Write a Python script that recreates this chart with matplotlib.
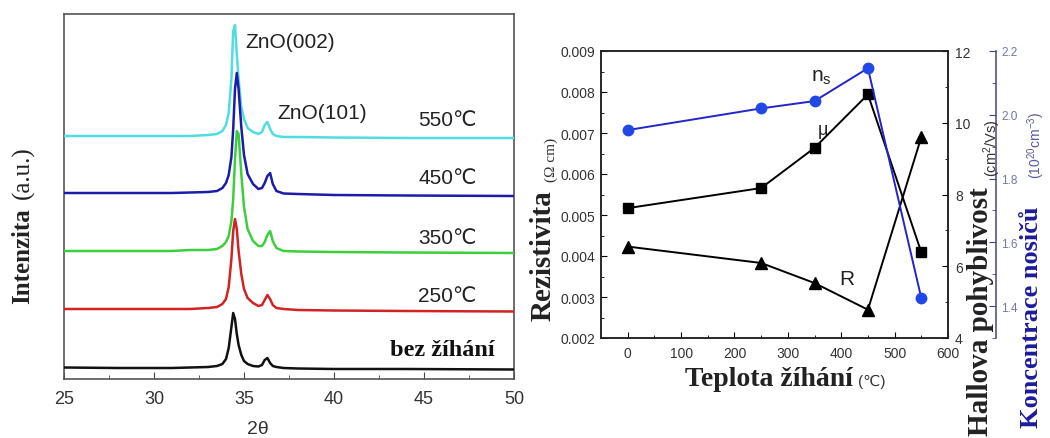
import matplotlib
matplotlib.use('Agg')
import matplotlib.pyplot as plt
from matplotlib.ticker import MultipleLocator, FormatStrFormatter

plt.rcParams['font.family'] = ['Liberation Sans', 'DejaVu Sans']
plt.rcParams['mathtext.default'] = 'regular'

# --- XRD scans (stacked, a.u.) ---
two_theta = [25.0, 28.0, 31.0, 32.0, 33.0, 33.5, 33.8, 34.0, 34.15, 34.3,
             34.4, 34.5, 34.6, 34.7, 34.85, 35.0, 35.2, 35.5, 35.8, 36.0,
             36.15, 36.3, 36.45, 36.6, 36.8, 37.2, 38.0, 40.0, 44.0, 50.0]
i_raw = [11.5, 11, 11, 11.5, 12, 13, 15, 20, 31, 52,
         66, 60, 45, 34, 24, 18, 15, 13, 12.5, 14,
         19, 21, 16, 13, 12, 11, 10.5, 10, 10, 9.5]
i_250 = [70, 70, 70, 70, 71, 72, 75, 80, 92, 120,
         148, 160, 150, 128, 105, 90, 81, 76, 73, 74,
         79, 84, 80, 74, 71, 70, 69, 68.5, 68, 67.5]
i_350 = [128, 128, 128, 129, 129, 130, 133, 137, 143, 158,
         180, 220, 248, 245, 205, 172, 150, 138, 133, 133,
         137, 144, 148, 138, 131, 128, 127.5, 127, 126.5, 126]
i_450 = [186, 186, 186, 186.5, 187, 188, 191, 196, 204, 222,
         250, 290, 306, 290, 252, 224, 205, 195, 190, 191,
         196, 203, 206, 195, 188, 185.5, 185, 184, 183.5, 183]
i_550 = [243, 243, 243, 243, 244, 245, 248, 254, 266, 300,
         348, 354, 325, 300, 272, 260, 251, 247, 245, 247,
         254, 257, 250, 245, 243, 242, 242, 241.5, 241, 241]
scan_labels = ['bez žíhání', '250℃', '350℃', '450℃', '550℃']

# --- Hall measurements vs annealing temperature ---
temp = [0, 250, 350, 450, 550]
resistivity = [0.00423, 0.00383, 0.00334, 0.00269, 0.00690]   # Ohm cm
mobility = [7.62, 8.18, 9.30, 10.79, 6.39]                    # cm2/Vs
carriers = [1.952, 2.020, 2.043, 2.146, 1.425]                # 1e20 cm-3

W, H = 1050, 439
fig = plt.figure(figsize=(W / 100, H / 100), dpi=100)

def fx(px):
    return px / W

def fy(py):
    return 1 - py / H

# ---------------- XRD panel ----------------
ax1 = fig.add_axes([fx(64), fy(380), 450 / W, 365 / H])
scans = [i_raw, i_250, i_350, i_450, i_550]
colors = ['#111111', '#d02424', '#3ccf3c', '#1c1ca8', '#4fdde2']
for k, (y, c) in enumerate(zip(scans, colors)):
    ax1.plot(two_theta, y, color=c, lw=1.8, zorder=10 - k)

ax1.set_xlim(25, 50)
ax1.set_ylim(0, 365)
ax1.set_yticks([])
ax1.xaxis.set_major_locator(MultipleLocator(5))
ax1.xaxis.set_minor_locator(MultipleLocator(2.5))
ax1.tick_params(axis='x', which='both', direction='in', labelsize=13,
                labelcolor='#333333', color='#444444', pad=8)
ax1.tick_params(axis='x', which='major', length=5)
ax1.tick_params(axis='x', which='minor', length=3)
for s in ax1.spines.values():
    s.set_color('#555555')
    s.set_linewidth(1.2)

ax1.text(35.06, 338, 'ZnO(002)', fontsize=15, va='center', color='#222222')
ax1.text(36.83, 267, 'ZnO(101)', fontsize=15, va='center', color='#222222')
label_y = [30, 84, 142, 201, 260]
for lab, ly in zip(scan_labels[1:], label_y[1:]):
    ax1.text(44.67, ly, lab, fontsize=15, va='center', color='#222222')
ax1.text(43.1, label_y[0], scan_labels[0], fontsize=17.5, va='center',
         family='Liberation Serif', weight='bold', color='#111111')

fig.text(fx(258), fy(430), '2θ', fontsize=14, ha='center', va='center',
         color='#333333')
fig.text(fx(23), fy(256), 'Intenzita', rotation=90, fontsize=18,
         family='Liberation Serif', weight='bold', ha='center', va='center',
         color='#222222')
fig.text(fx(23), fy(173), '(a.u.)', rotation=90, fontsize=18,
         family='Liberation Serif', ha='center', va='center', color='#222222')

# ---------------- Hall panel ----------------
ax2 = fig.add_axes([fx(601), fy(339), 347 / W, 287 / H])
ax3 = ax2.twinx()
ax4 = ax2.twinx()
ax4.spines['right'].set_position(('axes', 1.138))

ax2.plot(temp, resistivity, color='k', lw=1.4, marker='^', ms=8, zorder=3)
ax3.plot(temp, mobility, color='k', lw=1.4, marker='s', ms=7, zorder=3)
ax4.plot(temp, carriers, color='#2424c8', lw=1.4, marker='o', ms=7.5,
         mfc='#2048e6', mec='#2048e6', zorder=3)

ax2.set_xlim(-50, 600)
ax2.set_ylim(0.002, 0.009)
ax3.set_ylim(4, 12)
ax4.set_ylim(1.3, 2.2)

ax2.xaxis.set_major_locator(MultipleLocator(100))
ax2.xaxis.set_minor_locator(MultipleLocator(50))
ax2.yaxis.set_major_locator(MultipleLocator(0.001))
ax2.yaxis.set_minor_locator(MultipleLocator(0.0005))
ax2.yaxis.set_major_formatter(FormatStrFormatter('%.3f'))
ax3.yaxis.set_major_locator(MultipleLocator(2))
ax3.yaxis.set_minor_locator(MultipleLocator(1))
ax4.yaxis.set_major_locator(MultipleLocator(0.2))
ax4.yaxis.set_minor_locator(MultipleLocator(0.1))
ax4.yaxis.set_major_formatter(FormatStrFormatter('%.1f'))

ax2.tick_params(axis='x', which='both', direction='in', labelsize=10,
                labelcolor='#333333', pad=6)
ax2.tick_params(axis='y', which='both', direction='in', labelsize=10,
                labelcolor='#333333', pad=4)
ax3.tick_params(axis='y', which='both', direction='in', labelsize=10,
                labelcolor='#333333', pad=5)
ax4.tick_params(axis='y', which='both', direction='in', labelsize=8.5,
                labelcolor='#7474aa', color='#46467c', pad=4)
for a in (ax2, ax3):
    a.tick_params(which='major', length=4)
    a.tick_params(which='minor', length=2.5)
ax4.tick_params(which='major', length=5)
ax4.tick_params(which='minor', length=3)

for s in list(ax2.spines.values()) + list(ax3.spines.values()):
    s.set_color('#222222')
    s.set_linewidth(1.1)
for side in ('left', 'top', 'bottom'):
    ax4.spines[side].set_visible(False)
ax4.spines['right'].set_color('#46467c')
ax4.spines['right'].set_linewidth(1.1)

ax2.text(362, 0.00838, 'n$_s$', fontsize=15, ha='center', va='center',
         color='#222222')
ax2.text(366, 0.00708, 'μ', fontsize=13, ha='center', va='center',
         color='#222222')
ax2.text(411, 0.00345, 'R', fontsize=15, ha='center', va='center',
         color='#222222')

fig.text(fx(543), fy(256), 'Rezistivita', rotation=90, fontsize=21,
         family='Liberation Serif', weight='bold', ha='center', va='center',
         color='#222222')
fig.text(fx(551), fy(160), '(Ω cm)', rotation=90, fontsize=11,
         family='Liberation Serif', ha='center', va='center', color='#333333')
fig.text(fx(769), fy(380), 'Teplota žíhání', fontsize=20,
         family='Liberation Serif', weight='bold', ha='center', va='center',
         color='#222222')
fig.text(fx(872), fy(382), '(℃)', fontsize=11, ha='center', va='center',
         color='#333333')
fig.text(fx(980), fy(312), 'Hallova pohyblivost', rotation=90, fontsize=21,
         family='Liberation Serif', weight='bold', ha='center', va='center',
         color='#222222')
fig.text(fx(992), fy(148), '(cm$^2$/Vs)', rotation=90, fontsize=10.5,
         ha='center', va='center', color='#333333')
fig.text(fx(1031), fy(317), 'Koncentrace nosičů', rotation=90, fontsize=19,
         family='Liberation Serif', weight='bold', ha='center', va='center',
         color='#1c1c9c')
fig.text(fx(1036), fy(145), '(10$^{20}$cm$^{-3}$)', rotation=90, fontsize=10,
         ha='center', va='center', color='#5a5aa0')

fig.savefig('out.png', dpi=100)
